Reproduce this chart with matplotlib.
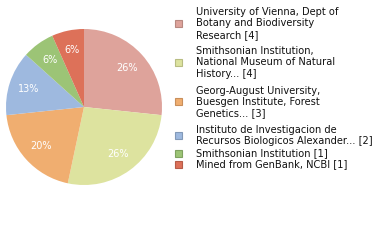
import matplotlib
matplotlib.use("Agg")
import matplotlib.pyplot as plt
from matplotlib.patches import Rectangle

labels = [
    "University of Vienna, Dept of\nBotany and Biodiversity\nResearch [4]",
    "Smithsonian Institution,\nNational Museum of Natural\nHistory... [4]",
    "Georg-August University,\nBuesgen Institute, Forest\nGenetics... [3]",
    "Instituto de Investigacion de\nRecursos Biologicos Alexander... [2]",
    "Smithsonian Institution [1]",
    "Mined from GenBank, NCBI [1]",
]
counts = [4, 4, 3, 2, 1, 1]
colors = ["#dea39b", "#dde39f", "#f0ae70", "#9eb9df", "#9cc476", "#dd7159"]
edges = ["#b88880", "#b8bd82", "#c98f5b", "#8299b8", "#7fa260", "#b65c48"]

W, H = 380, 240
fig = plt.figure(figsize=(W / 100, H / 100), dpi=100)

# pie: centre (84,107) px, radius 78 px
ax = fig.add_axes([6 / W, (H - 107 - 78) / H, 156 / W, 156 / H])
wedges, texts, autotexts = ax.pie(
    counts, colors=colors, startangle=90, counterclock=False,
    autopct=lambda p: f"{int(p + 1e-9)}%",
    pctdistance=0.75, wedgeprops=dict(linewidth=0),
    textprops=dict(color="white", fontsize=7))
ax.set_xlim(-1, 1)
ax.set_ylim(-1, 1)
ax.set_aspect("equal")
ax.axis("off")

# legend drawn by hand
line_h = 11.4
tops = [12, 51, 90.5, 130, 153, 164.5]
for lab, top, c, e in zip(labels, tops, colors, edges):
    n = lab.count("\n") + 1
    for i, line in enumerate(lab.split("\n")):
        y = top + i * line_h
        fig.text(196 / W, 1 - y / H, line, fontsize=7.1, color="#111111",
                 va="center", ha="left")
    mid = top + (n - 1) * line_h / 2
    fig.patches.append(Rectangle((175 / W, 1 - (mid + 3.5) / H), 7 / W, 7 / H,
                                 transform=fig.transFigure, facecolor=c,
                                 edgecolor=e, linewidth=0.8))

fig.savefig("out.png", dpi=100)
